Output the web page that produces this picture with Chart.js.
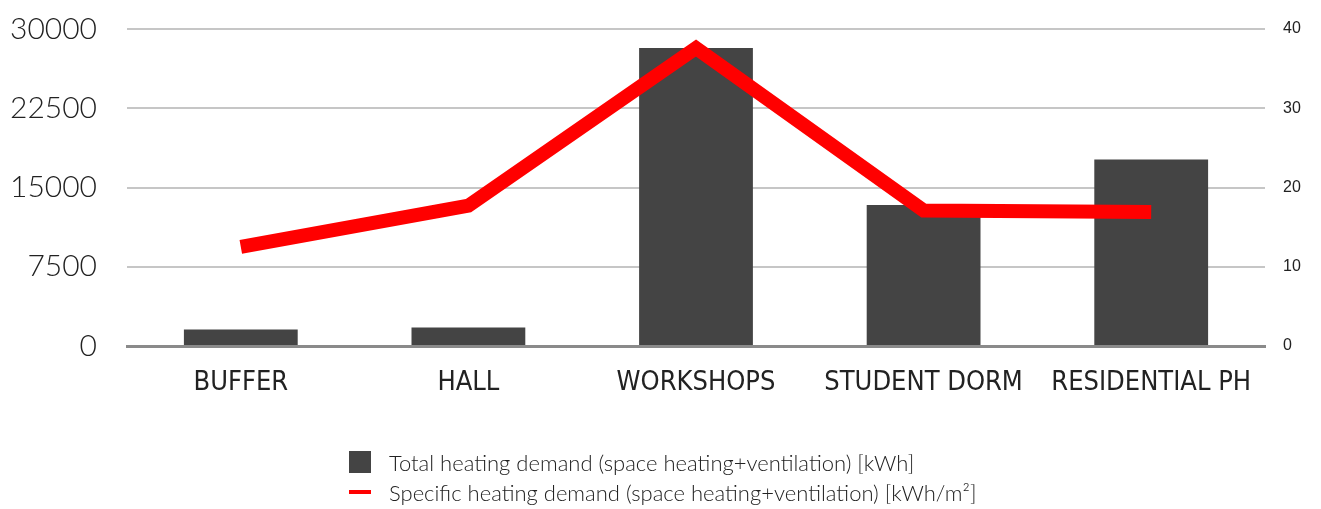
<!DOCTYPE html>
<html>
<head>
<meta charset="utf-8">
<script src="https://cdn.jsdelivr.net/npm/chart.js@4"></script>
<style>
  html, body { margin: 0; padding: 0; background: #fff; }
  #wrap { position: relative; width: 1321px; height: 509px; }
  #chart { position: absolute; left: 0; top: 0; }
  #legend { position: absolute; left: 349px; top: 447px; font-family: Lato, "Open Sans", sans-serif; font-weight: 300; font-size: 22px; color: #222; }
  #legend .item { display: flex; align-items: center; height: 30px; }
  #legend .swatch { width: 22px; margin-right: 18px; }
</style>
</head>
<body>
<div id="wrap">
  <canvas id="chart" width="1321" height="509"></canvas>
  <div id="legend"></div>
</div>
<script>
// categories and the two series
const categories = ['BUFFER', 'HALL', 'WORKSHOPS', 'STUDENT DORM', 'RESIDENTIAL PH'];
const totalDemand = [1560, 1760, 28200, 13350, 17650];      // kWh
const specificDemand = [12.5, 17.7, 37.6, 17.1, 16.9];      // kWh/m²
const leftTicks = [0, 7500, 15000, 22500, 30000];
const rightTicks = [0, 10, 20, 30, 40];

const barLabel = 'Total heating demand (space heating+ventilation) [kWh]';
const lineLabel = 'Specific heating demand (space heating+ventilation) [kWh/m²]';

const gridColor = '#c6c6c6';
const baseColor = '#8a8a8a';

// fixed axis sizes; drop the label overhang so the plot area starts where we say
const fitY = (width) => (scale) => {
    scale.width = width;
    scale.paddingTop = 0;
    scale.paddingBottom = 0;
};

const ctx = document.getElementById('chart').getContext('2d');
const chart = new Chart(ctx, {
    data: {
        labels: categories,
        datasets: [
            {
                type: 'line',
                label: lineLabel,
                data: specificDemand,
                yAxisID: 'y2',
                borderColor: '#ff0000',
                backgroundColor: '#ff0000',
                borderWidth: 14,
                borderJoinStyle: 'miter',
                borderCapStyle: 'butt',
                pointRadius: 0,
                tension: 0,
                order: 1
            },
            {
                type: 'bar',
                label: barLabel,
                data: totalDemand,
                yAxisID: 'y',
                backgroundColor: '#444444',
                barPercentage: 0.5,
                categoryPercentage: 1,
                order: 2
            }
        ]
    },
    options: {
        responsive: false,
        animation: false,
        layout: { padding: { top: 29, left: 0, right: 0, bottom: 0 } },
        plugins: {
            legend: { display: false },
            tooltip: { enabled: false }
        },
        scales: {
            x: {
                offset: true,
                grid: { display: false },
                border: { color: baseColor, width: 3 },
                ticks: {
                    color: '#222',
                    padding: 13,
                    autoSkip: false,
                    maxRotation: 0,
                    minRotation: 0,
                    font: { family: '"DejaVu Sans Condensed", sans-serif', size: 27, weight: 300 }
                },
                afterFit: (scale) => { scale.height = 163; }
            },
            y: {
                position: 'left',
                min: 0,
                max: 30000,
                afterBuildTicks: (scale) => { scale.ticks = leftTicks.map(v => ({ value: v })); },
                grid: { color: gridColor, lineWidth: 2, drawTicks: false },
                border: { display: false },
                ticks: {
                    color: '#222',
                    padding: 30,
                    callback: (v) => String(v),
                    font: { family: 'Lato, "Open Sans", sans-serif', size: 30, weight: 300 }
                },
                afterFit: fitY(127)
            },
            y2: {
                position: 'right',
                min: 0,
                max: 40,
                afterBuildTicks: (scale) => { scale.ticks = rightTicks.map(v => ({ value: v })); },
                grid: { display: false, drawTicks: false },
                border: { display: false },
                ticks: {
                    color: '#222',
                    padding: 18,
                    font: { family: '"Liberation Sans", Arial, sans-serif', size: 16 }
                },
                afterFit: fitY(56)
            }
        }
    }
});

// HTML legend built from the datasets, bar first
const legend = document.getElementById('legend');
[chart.data.datasets[1], chart.data.datasets[0]].forEach(ds => {
    const item = document.createElement('div');
    item.className = 'item';
    const sw = document.createElement('span');
    sw.className = 'swatch';
    sw.style.background = ds.type === 'bar' ? ds.backgroundColor : ds.borderColor;
    sw.style.height = ds.type === 'bar' ? '22px' : '4px';
    const txt = document.createElement('span');
    txt.textContent = ds.label;
    item.appendChild(sw);
    item.appendChild(txt);
    legend.appendChild(item);
});
</script>
</body>
</html>
